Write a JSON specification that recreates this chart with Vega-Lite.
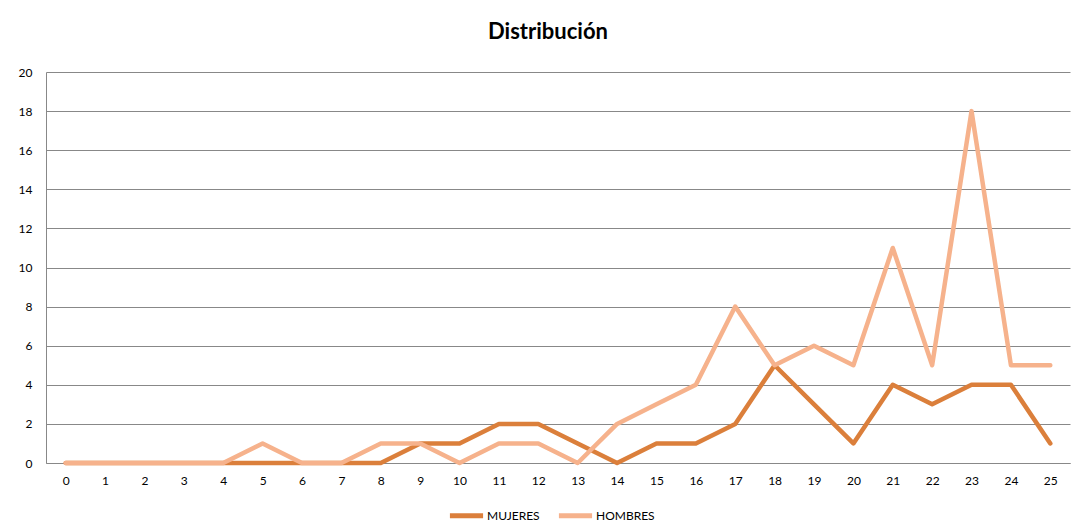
{
  "$schema": "https://vega.github.io/schema/vega-lite/v6.json",
  "autosize": "none",
  "width": 1024,
  "height": 391,
  "padding": {"left": 46, "top": 72, "right": 5, "bottom": 68},
  "background": "white",
  "title": {"text": "Distribución", "font": "Lato", "fontSize": 22, "fontWeight": "bold", "color": "#000000", "offset": 22, "dx": -10},
  "data": {"values": [
    {"x": 0, "s": "MUJERES", "v": 0}, {"x": 1, "s": "MUJERES", "v": 0}, {"x": 2, "s": "MUJERES", "v": 0}, {"x": 3, "s": "MUJERES", "v": 0},
    {"x": 4, "s": "MUJERES", "v": 0}, {"x": 5, "s": "MUJERES", "v": 0}, {"x": 6, "s": "MUJERES", "v": 0}, {"x": 7, "s": "MUJERES", "v": 0},
    {"x": 8, "s": "MUJERES", "v": 0}, {"x": 9, "s": "MUJERES", "v": 1}, {"x": 10, "s": "MUJERES", "v": 1}, {"x": 11, "s": "MUJERES", "v": 2},
    {"x": 12, "s": "MUJERES", "v": 2}, {"x": 13, "s": "MUJERES", "v": 1}, {"x": 14, "s": "MUJERES", "v": 0}, {"x": 15, "s": "MUJERES", "v": 1},
    {"x": 16, "s": "MUJERES", "v": 1}, {"x": 17, "s": "MUJERES", "v": 2}, {"x": 18, "s": "MUJERES", "v": 5}, {"x": 19, "s": "MUJERES", "v": 3},
    {"x": 20, "s": "MUJERES", "v": 1}, {"x": 21, "s": "MUJERES", "v": 4}, {"x": 22, "s": "MUJERES", "v": 3}, {"x": 23, "s": "MUJERES", "v": 4},
    {"x": 24, "s": "MUJERES", "v": 4}, {"x": 25, "s": "MUJERES", "v": 1},
    {"x": 0, "s": "HOMBRES", "v": 0}, {"x": 1, "s": "HOMBRES", "v": 0}, {"x": 2, "s": "HOMBRES", "v": 0}, {"x": 3, "s": "HOMBRES", "v": 0},
    {"x": 4, "s": "HOMBRES", "v": 0}, {"x": 5, "s": "HOMBRES", "v": 1}, {"x": 6, "s": "HOMBRES", "v": 0}, {"x": 7, "s": "HOMBRES", "v": 0},
    {"x": 8, "s": "HOMBRES", "v": 1}, {"x": 9, "s": "HOMBRES", "v": 1}, {"x": 10, "s": "HOMBRES", "v": 0}, {"x": 11, "s": "HOMBRES", "v": 1},
    {"x": 12, "s": "HOMBRES", "v": 1}, {"x": 13, "s": "HOMBRES", "v": 0}, {"x": 14, "s": "HOMBRES", "v": 2}, {"x": 15, "s": "HOMBRES", "v": 3},
    {"x": 16, "s": "HOMBRES", "v": 4}, {"x": 17, "s": "HOMBRES", "v": 8}, {"x": 18, "s": "HOMBRES", "v": 5}, {"x": 19, "s": "HOMBRES", "v": 6},
    {"x": 20, "s": "HOMBRES", "v": 5}, {"x": 21, "s": "HOMBRES", "v": 11}, {"x": 22, "s": "HOMBRES", "v": 5}, {"x": 23, "s": "HOMBRES", "v": 18},
    {"x": 24, "s": "HOMBRES", "v": 5}, {"x": 25, "s": "HOMBRES", "v": 5}
  ]},
  "mark": {"type": "line", "strokeWidth": 4.5, "strokeCap": "round", "strokeJoin": "round"},
  "encoding": {
    "x": {"field": "x", "type": "ordinal", "sort": "ascending", "title": null,
      "scale": {"paddingInner": 0, "paddingOuter": 0.5, "align": 0.5},
      "axis": {"labelAngle": 0, "ticks": false, "grid": false, "domainColor": "#888888", "domainWidth": 1, "labelPadding": 12, "labelFont": "Lato", "labelFontSize": 12, "labelColor": "#000000"}},
    "y": {"field": "v", "type": "quantitative", "title": null,
      "scale": {"domain": [0, 20]},
      "axis": {"values": [0, 2, 4, 6, 8, 10, 12, 14, 16, 18, 20], "ticks": false, "grid": true, "gridColor": "#888888", "gridWidth": 1, "domainColor": "#888888", "labelPadding": 14, "labelFont": "Lato", "labelFontSize": 12, "labelColor": "#000000"}},
    "color": {"field": "s", "type": "nominal", "title": null,
      "sort": ["MUJERES", "HOMBRES"],
      "scale": {"domain": ["MUJERES", "HOMBRES"], "range": ["#DB7F3B", "#F6B28C"]},
      "legend": {"orient": "none", "legendX": 401, "legendY": 424, "direction": "horizontal", "symbolType": "stroke", "symbolStrokeWidth": 5, "symbolSize": 1100, "labelFont": "Lato", "labelFontSize": 12, "labelColor": "#000000", "columnPadding": 8, "labelOffset": 1}
    }
  },
  "config": {"view": {"stroke": null}}
}
